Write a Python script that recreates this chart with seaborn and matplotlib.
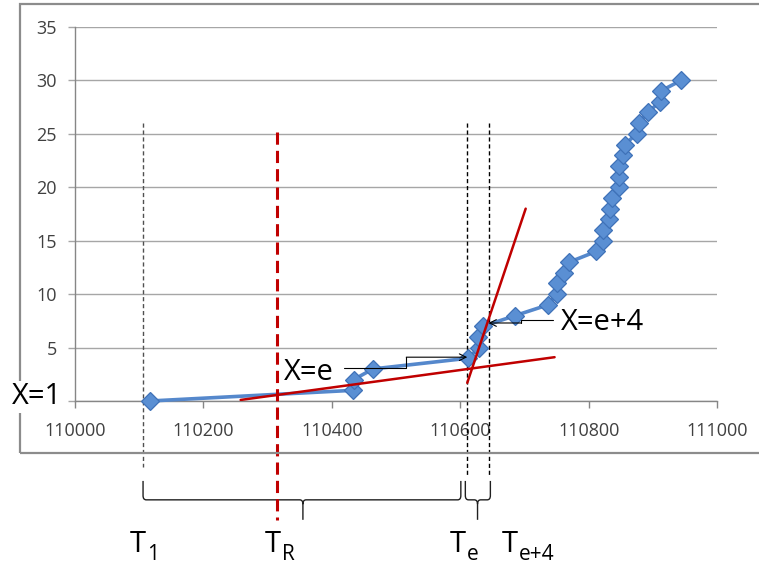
import matplotlib
matplotlib.use('Agg')
import matplotlib.pyplot as plt
import seaborn as sns
import pandas as pd
from matplotlib.path import Path
from matplotlib.patches import PathPatch, Rectangle

# observed points: time stamp vs event count
time_vals = [110117, 110433, 110434, 110464, 110612, 110630, 110627, 110636,
             110686, 110737, 110750, 110751, 110761, 110770, 110812, 110823,
             110823, 110831, 110833, 110836, 110847, 110847, 110847, 110853,
             110856, 110875, 110878, 110892, 110911, 110912, 110944]
count_vals = [0, 1, 2, 3, 4, 5, 6, 7, 8, 9, 10, 11, 12, 13, 14, 15,
              16, 17, 18, 19, 20, 21, 22, 23, 24, 25, 26, 27, 28, 29, 30]

# tangent segments (slow and fast regime)
slow_x = [110258, 110747]
slow_y = [0.1, 4.1]
fast_x = [110611, 110702]
fast_y = [1.7, 18.0]

# marked times
t_1 = 110106
t_r = 110314
t_e = 110611
t_e4 = 110645

x_ticks = [110000, 110200, 110400, 110600, 110800, 111000]
y_ticks = [0, 5, 10, 15, 20, 25, 30, 35]
y_labels = ['', '5', '10', '15', '20', '25', '30', '35']

BLUE = '#4F81BD'
RED = '#C00000'
GRAY = '#8C8C8C'

sns.set_theme(style='white')
plt.rcParams['font.family'] = ['Open Sans', 'DejaVu Sans']

W, H = 759, 564
fig = plt.figure(figsize=(W / 100, H / 100), dpi=100)
fig.patch.set_facecolor('white')


def fx(px):
    return px / W


def fy(py):
    return 1 - py / H


ax = fig.add_axes([fx(75), fy(401), fx(717) - fx(75), fy(27) - fy(401)])

df = pd.DataFrame({'time': time_vals, 'count': count_vals})
sns.lineplot(data=df, x='time', y='count', sort=False, estimator=None, ax=ax,
             color='#5588CC', linewidth=2.6, marker='D', markersize=9.5,
             markerfacecolor='#5A8FD3', markeredgecolor='#3F72B8',
             markeredgewidth=0.9, zorder=3, clip_on=False)
sns.lineplot(x=slow_x, y=slow_y, ax=ax, color=RED, linewidth=1.8, zorder=4)
sns.lineplot(x=fast_x, y=fast_y, ax=ax, color=RED, linewidth=1.8, zorder=4)

ax.set_xlim(110000, 111000)
ax.set_ylim(0, 35)
ax.set_xticks(x_ticks)
ax.set_xticklabels([str(v) for v in x_ticks])
ax.set_yticks(y_ticks)
ax.set_yticklabels(y_labels)
ax.set_xlabel('')
ax.set_ylabel('')
ax.yaxis.grid(True, color='#A6A6A6', linewidth=1.0)
ax.xaxis.grid(False)
ax.set_axisbelow(True)
for side in ['top', 'right']:
    ax.spines[side].set_visible(False)
for side in ['left', 'bottom']:
    ax.spines[side].set_color('#868686')
    ax.spines[side].set_linewidth(1.0)
ax.tick_params(axis='y', length=5, width=1, color='#A6A6A6', pad=8,
               labelsize=13, labelcolor='#404040', left=True, direction='out')
ax.tick_params(axis='x', length=5, width=1, color='#868686', pad=10,
               labelsize=13, labelcolor='#404040', bottom=True, direction='out')

# vertical time markers
ax.plot([t_1, t_1], [26.0, -6.2], color='#505050', lw=1.0, ls=(0, (3, 2)),
        clip_on=False, zorder=2)
ax.plot([t_e, t_e], [26.0, -7.1], color='black', lw=1.0, ls=(0, (3, 2)),
        clip_on=False, zorder=2)
ax.plot([t_e4, t_e4], [26.0, -7.1], color='black', lw=1.0, ls=(0, (3, 2)),
        clip_on=False, zorder=2)
ax.plot([t_r, t_r], [25.2, -11.1], color=RED, lw=2.2, ls=(0, (4, 2)),
        clip_on=False, zorder=4)


def brace(x0, x1, xt, ytop=-7.48, ymid=-9.25, ytip=-11.12, dx=5, dy=0.4):
    verts = [(x0, ytop), (x0, ymid + dy), (x0, ymid), (x0 + dx, ymid),
             (xt - dx, ymid), (xt, ymid), (xt, ymid - dy), (xt, ytip),
             (xt, ymid - dy), (xt, ymid), (xt + dx, ymid),
             (x1 - dx, ymid), (x1, ymid), (x1, ymid + dy), (x1, ytop)]
    codes = [Path.MOVETO, Path.LINETO, Path.CURVE3, Path.CURVE3,
             Path.LINETO, Path.CURVE3, Path.CURVE3, Path.LINETO,
             Path.MOVETO, Path.CURVE3, Path.CURVE3,
             Path.LINETO, Path.CURVE3, Path.CURVE3, Path.LINETO]
    ax.add_patch(PathPatch(Path(verts, codes), fill=False, edgecolor='#202020',
                           lw=1.0, clip_on=False, zorder=2))


brace(t_1, 110601, 110355)
brace(110608, 110647, 110627)

# arrows to the points e and e+4
ax.plot([110419, 110516, 110516], [3.08, 3.08, 4.1], color='black', lw=0.8,
        clip_on=False, zorder=5)
ax.annotate('', xy=(t_e, 4.1), xytext=(110516, 4.1),
            arrowprops=dict(arrowstyle='->', color='black', lw=0.8,
                            shrinkA=0, shrinkB=0), zorder=5)
ax.plot([110745, 110695, 110695], [7.57, 7.57, 7.3], color='black', lw=0.8,
        clip_on=False, zorder=5)
ax.annotate('', xy=(t_e4 - 1, 7.3), xytext=(110695, 7.3),
            arrowprops=dict(arrowstyle='->', color='black', lw=0.8,
                            shrinkA=0, shrinkB=0), zorder=5)

# outer chart frame
fig.add_artist(Rectangle((fx(20), fy(453)), 1.0, fy(4) - fy(453),
                         transform=fig.transFigure, fill=False,
                         edgecolor=GRAY, lw=1.6))

# labels
fig.text(fx(12), fy(397), 'X=1', fontsize=21, color='black', ha='left',
         va='center', bbox=dict(facecolor='white', edgecolor='none', pad=1))
fig.text(fx(284), fy(372), 'X=e', fontsize=21, color='black', ha='left',
         va='center')
fig.text(fx(561), fy(322), 'X=e+4', fontsize=21, color='black', ha='left',
         va='center')

renderer = fig.canvas.get_renderer()
for name, sub, px in [('T', '1', 130), ('T', 'R', 265),
                      ('T', 'e', 450), ('T', 'e+4', 502)]:
    t = fig.text(fx(px), fy(552), name, fontsize=21, color='black',
                 ha='left', va='baseline')
    right = t.get_window_extent(renderer).x1
    fig.text((right + 1) / W, fy(560), sub, fontsize=15, color='black',
             ha='left', va='baseline')

fig.savefig('out.png', dpi=100)
plt.close(fig)
